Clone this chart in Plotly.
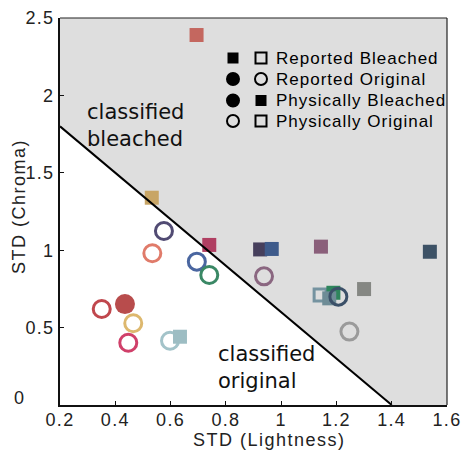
import plotly.graph_objects as go

# ---------------- data ----------------
std_lightness = [0.576, 0.534, 0.695, 0.740, 0.938, 1.247, 0.435, 0.351, 0.465, 0.447, 0.598,
                 0.694, 0.532, 0.740, 0.924, 0.966, 1.144, 1.538, 1.300, 0.634,
                 1.141, 1.189, 1.174, 1.207]
std_chroma = [1.124, 0.980, 0.926, 0.840, 0.831, 0.474, 0.652, 0.620, 0.528, 0.402, 0.415,
              2.390, 1.339, 1.034, 1.005, 1.008, 1.023, 0.990, 0.749, 0.441,
              0.710, 0.725, 0.689, 0.700]
kind = ["ocirc", "ocirc", "ocirc", "ocirc", "ocirc", "ocirc", "circ", "ocirc", "ocirc", "ocirc", "ocirc",
        "sq", "sq", "sq", "sq", "sq", "sq", "sq", "sq", "sq",
        "osq", "sq", "sq", "ocirc"]
colors = ["#514b73", "#e07b6a", "#4a66a0", "#3a8865", "#8a6680", "#9a9a9a", "#b84c4c", "#c0474d",
          "#ddb86e", "#d0406a", "#a3c3c9",
          "#c4675f", "#c8a565", "#b03f62", "#463f5c", "#3e5b8b", "#8a5f7a", "#3d5266", "#858783",
          "#9dbdc3",
          "#7593a0", "#2e855c", "#6e8c96", "#3b5068"]

boundary_x = [0.2, 1.4]
boundary_y = [1.8, 0.0]
x_range = [0.2, 1.6]
y_range = [0.0, 2.5]

x_ticks = [0.2, 0.4, 0.6, 0.8, 1.0, 1.2, 1.4, 1.6]
x_ticklabels = ["0.2", "0.4", "0.6", "0.8", "1", "1.2", "1.4", "1.6"]
y_ticks = [0.5, 1.0, 1.5, 2.0, 2.5]
y_ticklabels = ["0.5", "1", "1.5", "2", "2.5"]

legend_labels = ["Reported Bleached", "Reported Original", "Physically Bleached", "Physically Original"]
legend_col1 = ["sq", "circ", "circ", "ocirc"]
legend_col2 = ["osq", "ocirc", "sq", "osq"]

# ---------------- layout constants ----------------
W, H = 469, 453
OFF = 8  # default page body margin offsets the figure
L, R, T, B = 60 - OFF, 22 + OFF, 18 - OFF, 48 + OFF
PW, PH = W - L - R, H - T - B
TICK_FONT = "Liberation Sans, Arial, sans-serif"


def sp(text, ls):
    return f'<span style="letter-spacing:{ls}px">{text}</span>'


def paper_x(px):
    return (px - OFF - L) / PW


def paper_y(py):
    return (H - B - (py - OFF)) / PH


fig = go.Figure()

# shaded "classified bleached" region
fill_x = boundary_x + [x_range[1], x_range[1], x_range[0]]
fill_y = boundary_y + [y_range[0], y_range[1], y_range[1]]
fig.add_trace(go.Scatter(x=fill_x, y=fill_y, fill="toself", fillcolor="#dedede",
                         mode="none", hoverinfo="skip", showlegend=False))

# data points
for xi, yi, k, c in zip(std_lightness, std_chroma, kind, colors):
    if k == "sq":
        m = dict(symbol="square", size=14, color=c, line=dict(width=0))
    elif k == "osq":
        m = dict(symbol="square-open", size=12, color=c, line=dict(width=3, color=c))
    elif k == "circ":
        m = dict(symbol="circle", size=20, color=c, line=dict(width=0))
    else:
        m = dict(symbol="circle-open", size=17, color=c, line=dict(width=3, color=c))
    fig.add_trace(go.Scatter(x=[xi], y=[yi], mode="markers", marker=m,
                             showlegend=False, hoverinfo="x+y"))

# decision boundary
fig.add_trace(go.Scatter(x=boundary_x, y=boundary_y, mode="lines",
                         line=dict(color="black", width=2), showlegend=False, hoverinfo="skip"))

# region labels
fig.add_annotation(x=0.292, y=1.806, xref="x", yref="y", xanchor="left", yanchor="middle",
                   text="classified<br>bleached", showarrow=False, align="left",
                   font=dict(family="DejaVu Sans", size=21, color="#111"))
fig.add_annotation(x=0.766, y=0.242, xref="x", yref="y", xanchor="left", yanchor="middle",
                   text="classified<br>original", showarrow=False, align="left",
                   font=dict(family="DejaVu Sans", size=21, color="#111"))

# custom legend (decoration, paper coordinates)
row_py = [58, 79, 100.5, 121]
col_px = [233, 261]
shapes = []


def glyph(k, px, py):
    if k in ("sq", "osq"):
        typ = "rect"
    else:
        typ = "circle"
    if k == "sq":
        s, fc, lw = 11, "black", 0
    elif k == "osq":
        s, fc, lw = 11, "rgba(0,0,0,0)", 2
    elif k == "circ":
        s, fc, lw = 14, "black", 0
    else:
        s, fc, lw = 12, "rgba(0,0,0,0)", 2
    return dict(type=typ, xref="paper", yref="paper", xsizemode="pixel", ysizemode="pixel",
                xanchor=paper_x(px), yanchor=paper_y(py),
                x0=-s / 2, x1=s / 2, y0=-s / 2, y1=s / 2,
                fillcolor=fc, line=dict(color="black", width=lw), layer="above")


for i, lab in enumerate(legend_labels):
    shapes.append(glyph(legend_col1[i], col_px[0], row_py[i]))
    shapes.append(glyph(legend_col2[i], col_px[1], row_py[i]))
    fig.add_annotation(x=paper_x(274), y=paper_y(row_py[i]), xref="paper", yref="paper",
                       xanchor="left", yanchor="middle", showarrow=False,
                       text=sp(lab, 1.0),
                       font=dict(family=TICK_FONT, size=17, color="black"))

# top and right box lines
shapes.append(dict(type="line", xref="paper", yref="paper", x0=0, x1=1, y0=1, y1=1,
                   line=dict(color="#222", width=1.2), layer="above"))
shapes.append(dict(type="line", xref="paper", yref="paper", x0=1, x1=1, y0=0, y1=1,
                   line=dict(color="#222", width=1.2), layer="above"))

# axis titles and the "0" y label
fig.add_annotation(x=paper_x(269), y=paper_y(440), xref="paper", yref="paper",
                   xanchor="center", yanchor="middle", borderpad=0,
                   text=sp("STD (Lightness)", 1.5), showarrow=False,
                   font=dict(family=TICK_FONT, size=18, color="#222"))
fig.add_annotation(x=paper_x(19), y=paper_y(207), xref="paper", yref="paper",
                   xanchor="center", yanchor="middle",
                   text=sp("STD (Chroma)", 1.5), showarrow=False, textangle=-90,
                   font=dict(family=TICK_FONT, size=18, color="#222"))
fig.add_annotation(x=paper_x(19), y=paper_y(398), xref="paper", yref="paper",
                   xanchor="center", yanchor="middle",
                   text="0", showarrow=False,
                   font=dict(family=TICK_FONT, size=18, color="#222"))

fig.update_layout(
    width=W, height=H,
    margin=dict(l=L, r=R, t=T, b=B, pad=0, autoexpand=False),
    paper_bgcolor="white", plot_bgcolor="white",
    shapes=shapes,
    showlegend=False,
)
fig.update_xaxes(range=x_range, tickvals=x_ticks, automargin=False,
                 ticktext=[sp(t, 1.3) for t in x_ticklabels], ticklabelstandoff=-3,
                 showgrid=False, zeroline=False, showline=True, linecolor="#111", linewidth=2,
                 ticks="inside", ticklen=4, tickwidth=1, tickcolor="#111",
                 tickfont=dict(family=TICK_FONT, size=18, color="#222"))
fig.update_yaxes(range=y_range, tickvals=y_ticks, automargin=False,
                 ticktext=[sp(t, 1.3) for t in y_ticklabels],
                 showgrid=False, zeroline=False, showline=True, linecolor="#111", linewidth=2,
                 ticks="inside", ticklen=4, tickwidth=1, tickcolor="#111",
                 tickfont=dict(family=TICK_FONT, size=18, color="#222"))

fig.write_html("out.html")
